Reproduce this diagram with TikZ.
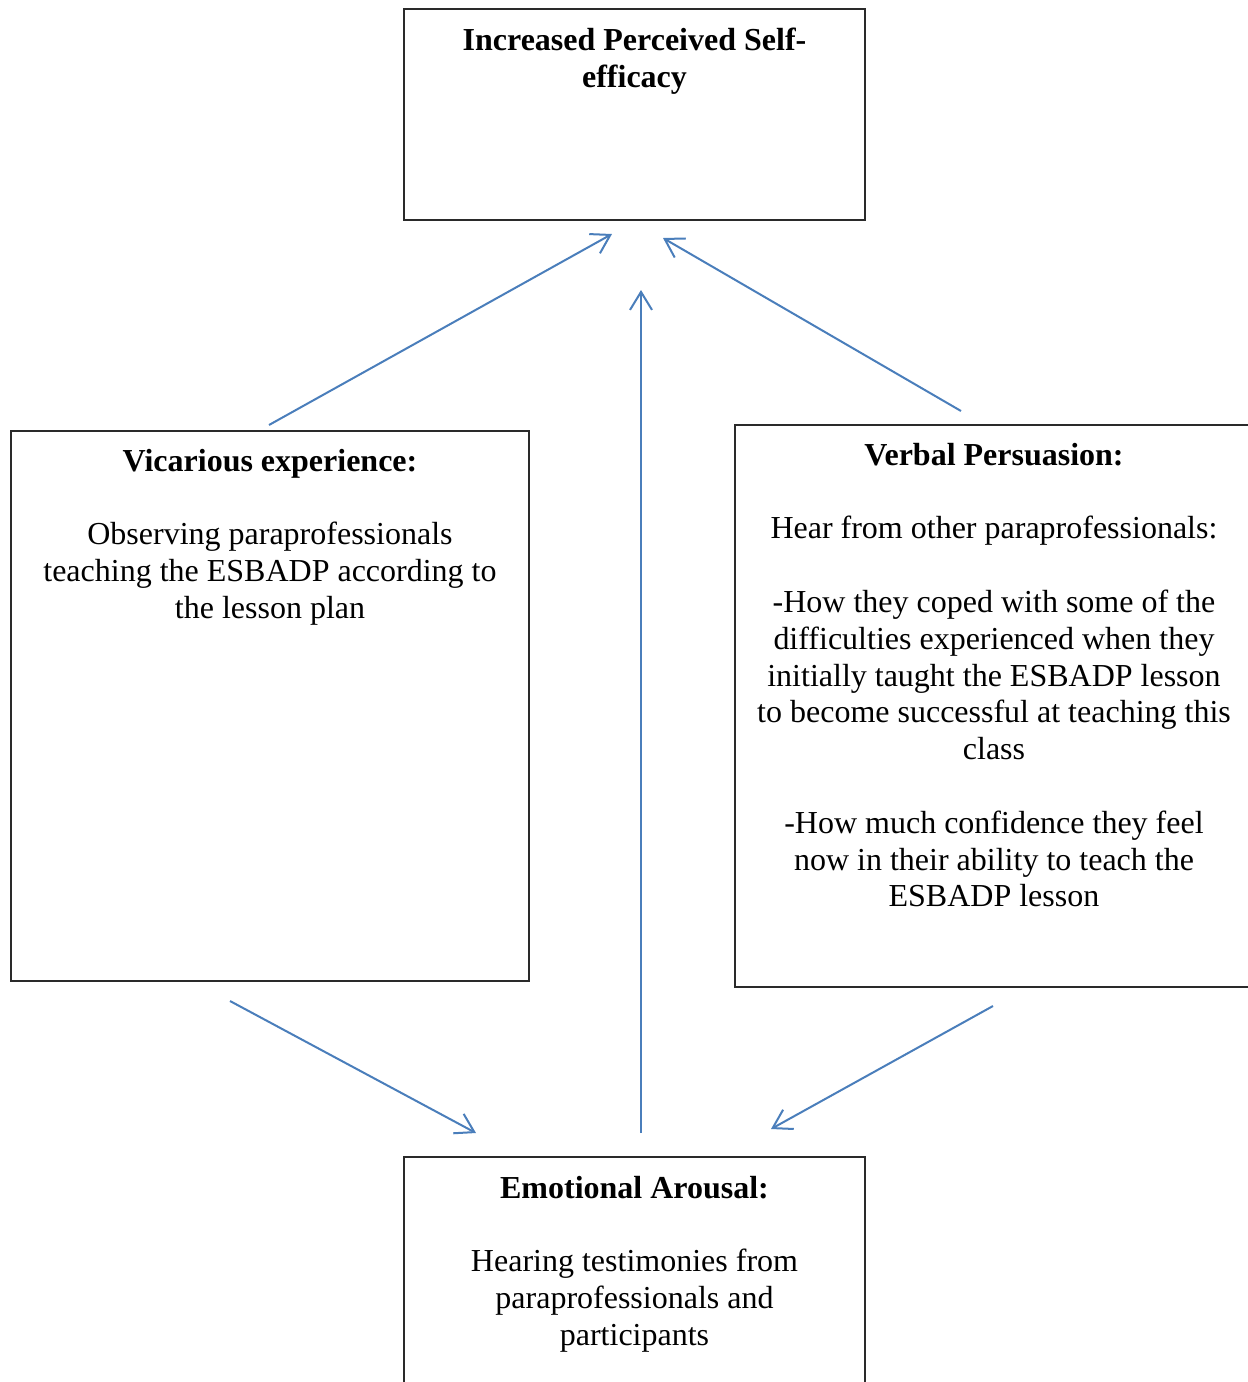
\documentclass[tikz,border=0pt]{standalone}
\usepackage{fontspec}
\setmainfont{Liberation Serif}
\usetikzlibrary{arrows.meta}
\definecolor{arrowblue}{HTML}{4A7EBB}
\definecolor{boxedge}{HTML}{2A2A2A}
% every text block starts with a strut of fixed height, so that its top edge
% lies exactly 26pt above the first baseline
\newcommand{\firstline}{\rule{0pt}{26pt}}
\tikzset{
  box/.style={draw=boxedge, line width=1.8pt, rectangle, inner sep=0pt},
  boxtext/.style={anchor=north, align=center, inner sep=0pt,
    font=\fontsize{32}{36.8}\selectfont},
  link/.style={draw=arrowblue, line width=2pt,
    -{Straight Barb[length=18pt,width=22pt,line width=2pt]}}
}
\begin{document}
\begin{tikzpicture}[x=1pt,y=-1pt]
  \useasboundingbox (0,0) rectangle (1248,1382);

  % boxes
  \node[box, minimum width=461pt, minimum height=211pt] (efficacy) at (634.5,114.5) {};
  \node[box, minimum width=518pt, minimum height=550pt] (vicarious) at (270,706) {};
  \node[box, minimum width=518pt, minimum height=562pt] (verbal) at (994,706) {};
  \node[box, minimum width=461pt, minimum height=243pt] (emotional) at (634.5,1278.5) {};

  % texts (y = first baseline - 26)
  \node[boxtext] (efficacytext) at (634.5,24)
    {\firstline\textbf{Increased Perceived Self-}\\\textbf{efficacy}};
  \node[boxtext] (vicarioustext) at (270,445)
    {\firstline\textbf{Vicarious experience:}\\[36.8pt]
     Observing paraprofessionals\\
     teaching the ESBADP according to\\
     the lesson plan};
  \node[boxtext] (verbaltext) at (994,439)
    {\firstline\textbf{Verbal Persuasion:}\\[36.8pt]
     Hear from other paraprofessionals:\\[36.8pt]
     -How they coped with some of the\\
     difficulties experienced when they\\
     initially taught the ESBADP lesson\\
     to become successful at teaching this\\
     class\\[36.8pt]
     -How much confidence they feel\\
     now in their ability to teach the\\
     ESBADP lesson};
  \node[boxtext] (emotionaltext) at (634.5,1172)
    {\firstline\textbf{Emotional Arousal:}\\[36.8pt]
     Hearing testimonies from\\
     paraprofessionals and\\
     participants};

  % free ends of the connectors
  \coordinate (vicTail) at (269,425);
  \coordinate (vicHead) at (612,234);
  \coordinate (verTail) at (961,411);
  \coordinate (verHead) at (663,238);
  \coordinate (emoTail) at (641,1133);
  \coordinate (emoHead) at (641,290);
  \coordinate (vicDownTail) at (230,1001);
  \coordinate (vicDownHead) at (476,1133);
  \coordinate (verDownTail) at (993,1006);
  \coordinate (verDownHead) at (771,1129);

  % connectors
  \draw[link] (vicTail) -- (vicHead);
  \draw[link] (verTail) -- (verHead);
  \draw[link] (emoTail) -- (emoHead);
  \draw[link] (vicDownTail) -- (vicDownHead);
  \draw[link] (verDownTail) -- (verDownHead);
\end{tikzpicture}
\end{document}
